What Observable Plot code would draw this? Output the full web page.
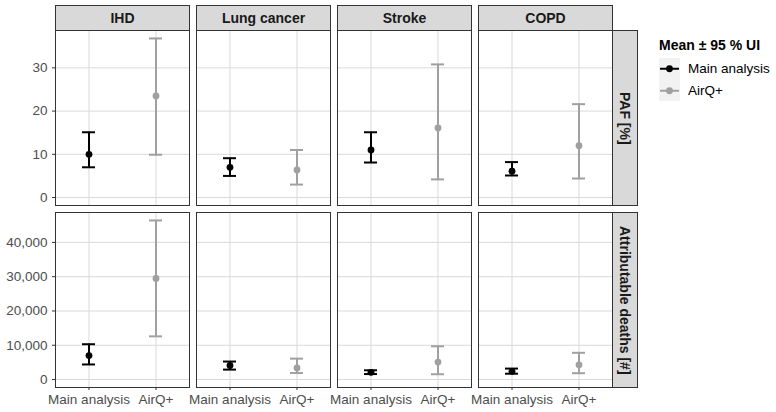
<!DOCTYPE html>
<html><head><meta charset="utf-8">
<script src="https://cdn.jsdelivr.net/npm/d3@7"></script>
<script src="https://cdn.jsdelivr.net/npm/@observablehq/plot@0.6"></script>
<style>
body{margin:0;background:#fff;font-family:"Liberation Sans",Arial,sans-serif;}
#chart{position:relative;width:776px;height:412px;overflow:hidden;background:#fff;}
#chart svg{position:absolute;left:0;}
.strip{position:absolute;box-sizing:border-box;background:#d9d9d9;border:1px solid #333;font-weight:bold;font-size:14px;color:#1a1a1a;display:flex;align-items:center;justify-content:center;white-space:nowrap;}
.vstrip{writing-mode:vertical-rl;}
.legend{position:absolute;font-family:"Liberation Sans",Arial,sans-serif;color:#000;}
</style></head><body><div id="chart"></div>
<script>
// ---- data ----
const diseases = ["IHD", "Lung cancer", "Stroke", "COPD"];
const methods = ["Main analysis", "AirQ+"];
const rowLabels = ["PAF [%]", "Attributable deaths [#]"];
const legendTitle = "Mean \u00b1 95 % UI";

const pafMain    = [10.0, 7.0, 11.0, 6.1];
const pafMainLo  = [7.0, 5.0, 8.1, 5.1];
const pafMainHi  = [15.1, 9.1, 15.1, 8.2];
const pafAirq    = [23.5, 6.4, 16.1, 12.0];
const pafAirqLo  = [9.9, 3.0, 4.2, 4.4];
const pafAirqHi  = [36.8, 11.0, 30.8, 21.6];

const deathsMain   = [7000, 4100, 2100, 2400];
const deathsMainLo = [4400, 2900, 1600, 1700];
const deathsMainHi = [10300, 5250, 2700, 3200];
const deathsAirq   = [29500, 3400, 5100, 4300];
const deathsAirqLo = [12600, 1900, 1550, 1850];
const deathsAirqHi = [46400, 6100, 9700, 7800];

const pafTicks = [0, 10, 20, 30];
const deathTicks = [0, 10000, 20000, 30000, 40000];

function rows(groups) {
  const out = [];
  groups.forEach(([method, mean, lo, hi]) => {
    diseases.forEach((d, i) => out.push({disease: d, method, mean: mean[i], lo: lo[i], hi: hi[i]}));
  });
  return out;
}
const pafData = rows([["Main analysis", pafMain, pafMainLo, pafMainHi], ["AirQ+", pafAirq, pafAirqLo, pafAirqHi]]);
const deathData = rows([["Main analysis", deathsMain, deathsMainLo, deathsMainHi], ["AirQ+", deathsAirq, deathsAirqLo, deathsAirqHi]]);

const FONT = "Liberation Sans, Arial, sans-serif";
const colors = ["#000000", "#a0a0a0"];

function panelPlot({data, height, marginTop, marginBottom, yTicks, yFormat, xAxis}) {
  const lo = Math.min(0, d3.min(data, d => d.lo)), hi = d3.max(data, d => d.hi);
  const pad = (hi - lo) * 0.05;
  return Plot.plot({
    width: 612, height, marginLeft: 54, marginRight: 0, marginTop, marginBottom,
    style: {fontFamily: FONT, fontSize: "13.5px", color: "#4d4d4d", background: "transparent", overflow: "visible"},
    fx: {domain: diseases, paddingInner: 0.052, paddingOuter: 0, axis: null, label: null},
    x: {domain: methods, type: "band", paddingInner: 0.8, paddingOuter: 0.4, axis: null, label: null},
    y: {domain: [lo - pad, hi + pad], axis: null, label: null},
    color: {domain: methods, range: colors},
    marks: [
      Plot.gridY(yTicks, {stroke: "#d9d9d9", strokeOpacity: 1, strokeWidth: 1}),
      Plot.ruleX(methods, {x: d => d, stroke: "#d9d9d9", strokeWidth: 1}),
      Plot.ruleX(data, {fx: "disease", x: "method", y1: "lo", y2: "hi", stroke: "method", strokeWidth: 2}),
      Plot.tickY(data, {fx: "disease", x: "method", y: "lo", stroke: "method", strokeWidth: 2}),
      Plot.tickY(data, {fx: "disease", x: "method", y: "hi", stroke: "method", strokeWidth: 2}),
      Plot.dot(data, {fx: "disease", x: "method", y: "mean", fill: "method", r: 3.4}),
      Plot.frame({stroke: "#333", strokeOpacity: 1, strokeWidth: 1}),
      Plot.axisY(yTicks, {anchor: "left", tickSize: 3, tickPadding: 5, tickFormat: yFormat, stroke: "#333", fill: "#4d4d4d", fontSize: 13.5, label: null}),
      xAxis ? Plot.axisX({anchor: "bottom", tickSize: 3, tickPadding: 4, stroke: "#333", fill: "#4d4d4d", fontSize: 13.5, label: null}) : null
    ]
  });
}

const chart = document.getElementById("chart");
const top1 = panelPlot({data: pafData, height: 206, marginTop: 30, marginBottom: 1, yTicks: pafTicks, yFormat: d3.format("d"), xAxis: false});
top1.style.top = "0px";
chart.appendChild(top1);
const bot = panelPlot({data: deathData, height: 206, marginTop: 6, marginBottom: 25, yTicks: deathTicks, yFormat: d3.format(","), xAxis: true});
bot.style.top = "206px";
chart.appendChild(bot);

// column strips
const fx = top1.scale("fx");
diseases.forEach(d => {
  const s = document.createElement("div");
  s.className = "strip";
  s.style.left = fx.apply(d) + "px";
  s.style.width = (fx.bandwidth + 1) + "px";
  s.style.top = "4.5px";
  s.style.height = "26px";
  s.textContent = d;
  chart.appendChild(s);
});
// row strips
[[30, 176], [212, 176]].forEach(([t, h], i) => {
  const s = document.createElement("div");
  s.className = "strip vstrip";
  s.style.left = "612px";
  s.style.width = "26px";
  s.style.top = t + "px";
  s.style.height = h + "px";
  s.textContent = rowLabels[i];
  chart.appendChild(s);
});

// legend
const lg = document.createElement("div");
lg.className = "legend";
lg.style.left = "659px";
lg.style.top = "36px";
let html = `<div style="font-weight:bold;font-size:14px;line-height:18px;white-space:nowrap;">${legendTitle}</div>`;
html += `<div style="position:relative;margin-top:4px;">`;
methods.forEach((m, i) => {
  html += `<div style="display:flex;align-items:center;height:21.5px;">
    <svg width="21" height="21.5" style="position:static;background:#f2f2f2;display:block">
      <line x1="1" x2="20" y1="10.75" y2="10.75" stroke="${colors[i]}" stroke-width="2"/>
      <circle cx="10.5" cy="10.75" r="3.4" fill="${colors[i]}"/>
    </svg>
    <span style="font-size:13.5px;margin-left:8px;white-space:nowrap;">${m}</span></div>`;
});
html += `</div>`;
lg.innerHTML = html;
chart.appendChild(lg);
</script>
</body></html>
